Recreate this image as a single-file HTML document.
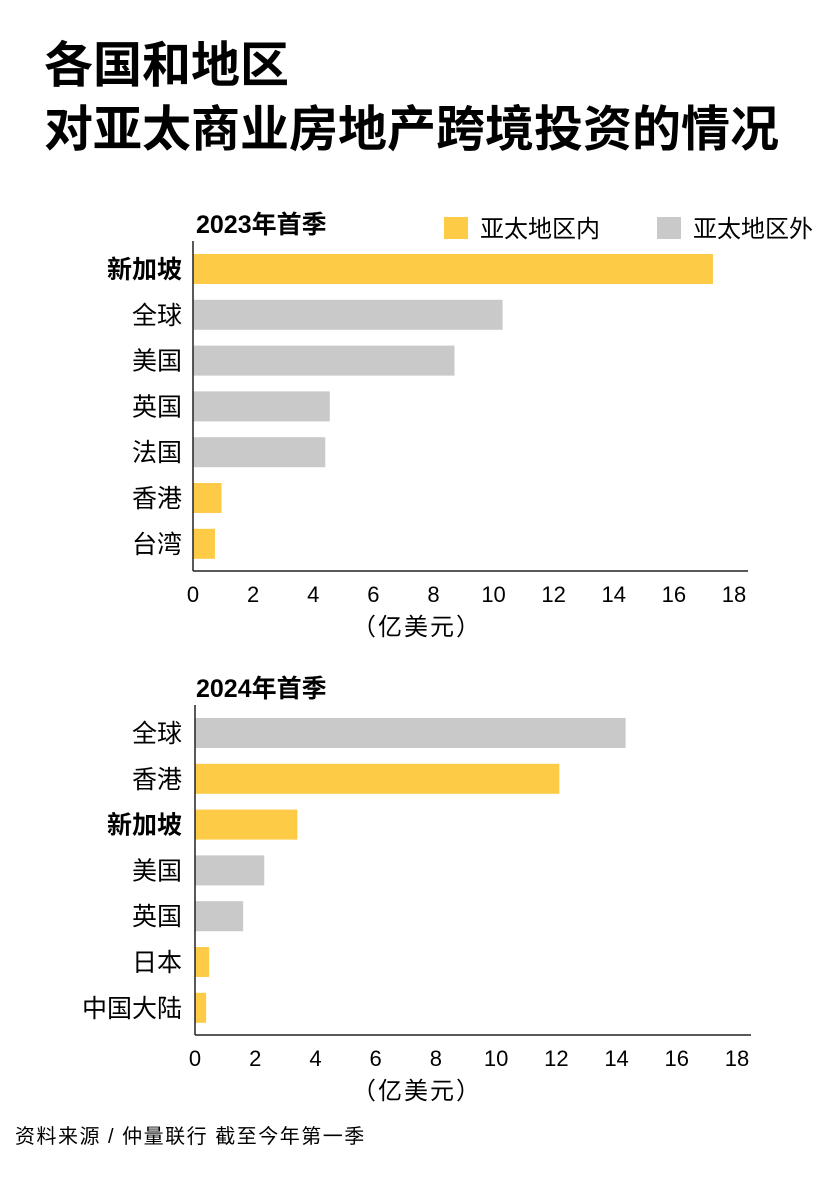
<!DOCTYPE html>
<html><head><meta charset="utf-8"><style>
body{margin:0;background:#fff;width:834px;height:1181px;overflow:hidden;font-family:"Liberation Sans","Noto Sans CJK SC",sans-serif;color:#1a1a1a}
svg text{font-family:"Liberation Sans","Noto Sans CJK SC",sans-serif}
</style></head><body>
<svg id="c" width="834" height="1181">
<text x="44" y="82" font-size="49" font-weight="bold">各国和地区</text>
<text x="44" y="146" font-size="49" font-weight="bold">对亚太商业房地产跨境投资的情况</text>
<rect x="444" y="217" width="24" height="22" fill="#fdcb45"/>
<text x="480" y="237" font-size="24">亚太地区内</text>
<rect x="657" y="217" width="24" height="22" fill="#c9c9c9"/>
<text x="693" y="237" font-size="24">亚太地区外</text>
<text x="15" y="1143" font-size="20" letter-spacing="1.5">资料来源 / 仲量联行 截至今年第一季</text>
</svg>
<script>
const cats1=["新加坡","全球","美国","英国","法国","香港","台湾"];
const vals1=[17.3,10.3,8.7,4.55,4.4,0.95,0.73];
const inside1=[1,0,0,0,0,1,1];
const cats2=["全球","香港","新加坡","美国","英国","日本","中国大陆"];
const vals2=[14.3,12.1,3.4,2.3,1.6,0.47,0.37];
const inside2=[0,1,1,0,0,1,1];
const ticks=[0,2,4,6,8,10,12,14,16,18];
const svg=document.getElementById('c');
const NS='http://www.w3.org/2000/svg';
function mk(t,a){const e=document.createElementNS(NS,t);for(const k in a)e.setAttribute(k,a[k]);svg.appendChild(e);return e;}
function chart(id,title,cats,vals,inside,x0,x18,yTop,rowStart,axisY){
  const sx=v=>x0+(x18-x0)*v/18;
  let t=mk('text',{x:196,y:yTop,'font-size':25,'font-weight':'bold'});t.textContent=title;
  
  
  cats.forEach((c,i)=>{
    const cy=rowStart+i*45.8;
    const r=mk('rect',{x:sx(0),y:cy-15,width:sx(vals[i])-sx(0),height:30,fill:inside[i]?'#fdcb45':'#c9c9c9'});
    
    
    const l=mk('text',{x:182,y:cy+9,'font-size':25,'text-anchor':'end','font-weight':c==='新加坡'?'bold':'normal'});
    l.textContent=c;
    
    
  });
  const ya=mk('line',{x1:x0,x2:x0,y1:rowStart-28,y2:axisY,stroke:'#222','stroke-width':1.5});
  
  
  const xa=mk('line',{x1:x0,x2:x18+14,y1:axisY,y2:axisY,stroke:'#222','stroke-width':1.5});
  
  
  ticks.forEach(v=>{
    const tt=mk('text',{x:sx(v),y:axisY+31,'font-size':22,'text-anchor':'middle'});
    tt.textContent=v;
    
    
  });
  const u=mk('text',{x:417,y:axisY+64,'font-size':24,'text-anchor':'middle','letter-spacing':2});
  u.textContent='（亿美元）';
  
  
}
chart('chart-2023','2023年首季',cats1,vals1,inside1,193,734,233,269,571);
chart('chart-2024','2024年首季',cats2,vals2,inside2,195,737,697,733,1035);
</script>
</body></html>
